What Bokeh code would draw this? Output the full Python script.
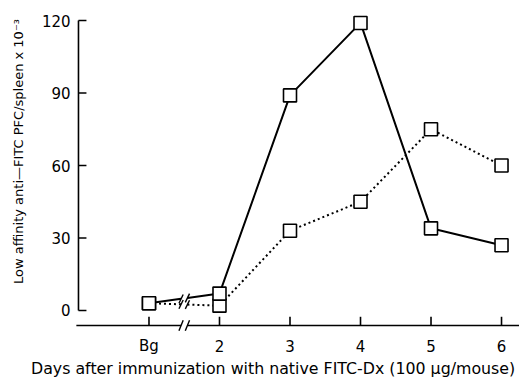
import math
from bokeh.plotting import figure
from bokeh.models import Range1d
from bokeh.core.properties import value
from bokeh.embed import file_html
from bokeh.resources import INLINE

# Day positions (Bg plotted as position 1) and PFC counts (x 10^-3)
days = [1, 2, 3, 4, 5, 6]
day_labels = ["Bg", "2", "3", "4", "5", "6"]
solid_pfc = [3, 7, 89, 119, 34, 27]
dotted_pfc = [3, 2, 33, 45, 75, 60]
y_ticks = [0, 30, 60, 90, 120]
y_tick_labels = ["0", "30", "60", "90", "120"]
x_title = "Days after immunization with native FITC-Dx (100 \u03bcg/mouse)"
y_title = "Low affinity anti\u2014FITC PFC/spleen x 10\u207b\u00b3"

FONT = "DejaVu Sans"
# axis geometry in data units
BREAK_X = 1.5      # break in the day axis between Bg and day 2
GAP = 0.045        # half-width of the break gap
AXIS_Y = -6.2      # height of the day axis
TICK_TOP = -2.6
TICK_LABEL_Y = -14.9
TITLE_Y = -24.0
TITLE_X = 2.76
Y_AXIS_X = 0.0
Y_TICK_LEN = 0.113
Y_LABEL_X = -0.113
Y_TITLE_X = -0.85
Y_TITLE_Y = 65.8

p = figure(width=519, height=380, output_backend="svg", toolbar_location=None,
           x_range=Range1d(-1.106, 6.255), y_range=Range1d(-28.97, 128.28),
           x_axis_type=None, y_axis_type=None, min_border=0)
p.outline_line_color = None
p.grid.visible = False
p.background_fill_color = "white"

ink = dict(line_color="black", line_width=1.6)
txt = dict(text_font=value(FONT), text_color="black")

# value axis: line from 0 to 120, ticks pointing inward
p.segment(x0=[Y_AXIS_X], y0=[y_ticks[0]], x1=[Y_AXIS_X], y1=[y_ticks[-1]], **ink)
p.segment(x0=[Y_AXIS_X] * len(y_ticks), y0=y_ticks,
          x1=[Y_AXIS_X + Y_TICK_LEN] * len(y_ticks), y1=y_ticks, **ink)
p.text(x=[Y_LABEL_X] * len(y_ticks), y=y_ticks, text=y_tick_labels, text_font_size="15px",
       text_align="right", text_baseline="middle", **txt)
p.text(x=[Y_TITLE_X], y=[Y_TITLE_Y], text=[y_title], angle=math.pi / 2, text_font_size="13px",
       text_align="center", text_baseline="middle", **txt)

# day axis with a break between Bg and day 2
p.segment(x0=[Y_AXIS_X - 0.03, BREAK_X + GAP], y0=[AXIS_Y, AXIS_Y],
          x1=[BREAK_X - GAP, p.x_range.end], y1=[AXIS_Y, AXIS_Y], **ink)
p.segment(x0=days, y0=[AXIS_Y] * len(days), x1=days, y1=[TICK_TOP] * len(days), **ink)
p.segment(x0=[BREAK_X - GAP - 0.03, BREAK_X + GAP - 0.03], y0=[AXIS_Y - 2.2] * 2,
          x1=[BREAK_X - GAP + 0.03, BREAK_X + GAP + 0.03], y1=[AXIS_Y + 2.2] * 2,
          line_color="black", line_width=1.4)
p.text(x=days, y=[TICK_LABEL_Y] * len(days), text=day_labels, text_font_size="15px",
       text_align="center", text_baseline="middle", **txt)
p.text(x=[TITLE_X], y=[TITLE_Y], text=[x_title], text_font_size="15.8px",
       text_align="center", text_baseline="middle", **txt)


def series(vals, dash):
    # interpolate the value at both edges of the break
    t0 = (BREAK_X - GAP - days[0]) / (days[1] - days[0])
    t1 = (BREAK_X + GAP - days[0]) / (days[1] - days[0])
    y0 = vals[0] + t0 * (vals[1] - vals[0])
    y1 = vals[0] + t1 * (vals[1] - vals[0])
    p.line([days[0], BREAK_X - GAP], [vals[0], y0], line_color="black", line_width=2, line_dash=dash)
    p.line([BREAK_X + GAP] + days[1:], [y1] + vals[1:], line_color="black", line_width=2, line_dash=dash)
    # slashes on the line at the break
    p.segment(x0=[BREAK_X - GAP - 0.03, BREAK_X + GAP - 0.03], y0=[y0 - 1.8, y1 - 1.8],
              x1=[BREAK_X - GAP + 0.03, BREAK_X + GAP + 0.03], y1=[y0 + 1.8, y1 + 1.8],
              line_color="black", line_width=1.4)


series(dotted_pfc, "2 3")
series(solid_pfc, "solid")

p.scatter(days, dotted_pfc, marker="square", size=13, fill_color="white", **ink)
p.scatter(days, solid_pfc, marker="square", size=13, fill_color="white", **ink)

open("out.html", "w").write(file_html(p, INLINE))
